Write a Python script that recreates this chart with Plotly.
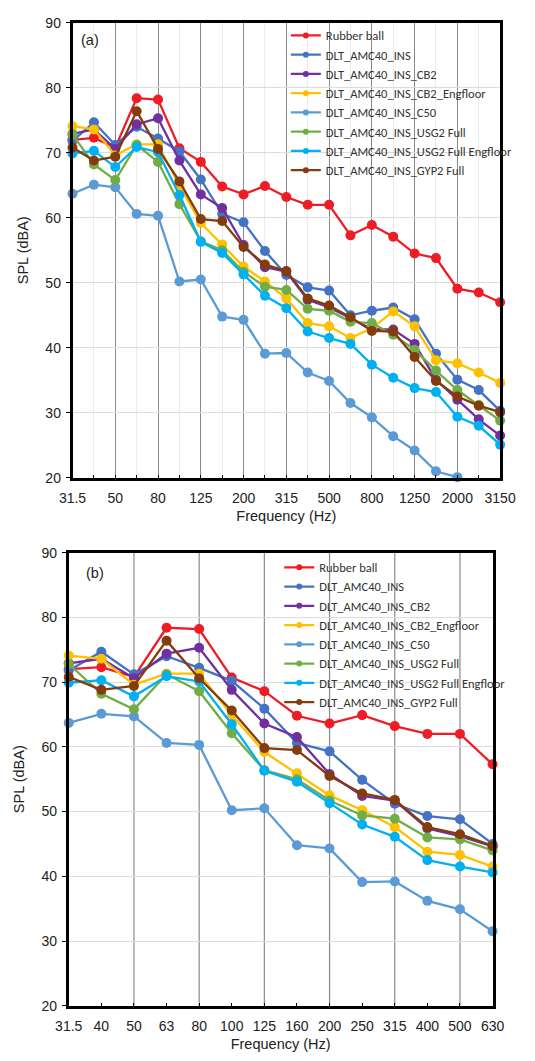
import plotly.graph_objects as go

# One-third octave band centre frequencies (Hz)
freqs = ["31.5", "40", "50", "63", "80", "100", "125", "160", "200", "250", "315",
         "400", "500", "630", "800", "1000", "1250", "1600", "2000", "2500", "3150"]

# Number of bands shown in the lower panel (31.5 - 630 Hz)
n_low = 14

# Sound pressure level per band (dBA)
rubber_ball = [72.0, 72.3, 70.8, 78.4, 78.2, 70.7, 68.6, 64.8, 63.6, 64.9, 63.2,
               62.0, 62.0, 57.3, 58.9, 57.1, 54.5, 53.8, 49.1, 48.5, 47.0]
ins = [71.8, 74.7, 71.2, 74.0, 72.2, 70.2, 65.9, 60.6, 59.3, 54.9, 51.2,
       49.3, 48.8, 45.0, 45.7, 46.2, 44.4, 39.1, 35.1, 33.5, 30.3]
ins_cb2 = [72.9, 73.6, 70.6, 74.4, 75.3, 68.8, 63.6, 61.5, 55.8, 52.4, 51.7,
           47.4, 46.2, 44.6, 42.9, 42.8, 40.6, 35.1, 32.0, 29.0, 26.5]
ins_cb2_eng = [74.1, 73.6, 69.6, 71.3, 71.3, 64.9, 59.2, 55.9, 52.5, 50.2, 47.6,
               43.8, 43.3, 41.5, 43.0, 45.6, 43.3, 38.1, 37.6, 36.2, 34.6]
ins_c50 = [63.7, 65.1, 64.7, 60.6, 60.3, 50.2, 50.5, 44.8, 44.3, 39.1, 39.2,
           36.2, 34.9, 31.5, 29.3, 26.4, 24.2, 21.0, 20.1, None, None]
ins_usg2 = [72.8, 68.2, 65.8, 71.2, 68.6, 62.1, 56.4, 55.0, 51.7, 49.4, 48.9,
            46.0, 45.7, 44.0, 43.8, 42.0, 39.7, 36.5, 33.5, 31.2, 28.8]
ins_usg2_eng = [69.9, 70.3, 67.8, 70.9, 70.1, 63.5, 56.3, 54.6, 51.3, 48.0, 46.1,
                42.5, 41.5, 40.6, 37.4, 35.4, 33.8, 33.2, 29.4, 28.0, 25.1]
ins_gyp2 = [70.8, 68.8, 69.4, 76.4, 70.6, 65.6, 59.8, 59.5, 55.5, 52.8, 51.8,
            47.6, 46.5, 44.7, 42.6, 42.5, 38.6, 34.9, 32.5, 31.1, 30.1]

series = [
    ("Rubber ball", rubber_ball, "#EE1C25"),
    ("DLT_AMC40_INS", ins, "#4472C4"),
    ("DLT_AMC40_INS_CB2", ins_cb2, "#7030A0"),
    ("DLT_AMC40_INS_CB2_Engfloor", ins_cb2_eng, "#FFC000"),
    ("DLT_AMC40_INS_C50", ins_c50, "#5B9BD5"),
    ("DLT_AMC40_INS_USG2 Full", ins_usg2, "#70AD47"),
    ("DLT_AMC40_INS_USG2 Full Engfloor", ins_usg2_eng, "#00B0F0"),
    ("DLT_AMC40_INS_GYP2 Full", ins_gyp2, "#843C0C"),
]

W, H = 535, 1061
x_all = list(range(len(freqs)))
x_low = x_all[:n_low]

fig = go.Figure()

panels = [("x", "y", "legend", x_all, None), ("x2", "y2", "legend2", x_low, n_low)]
for xa, ya, leg, xs, n in panels:
    for name, vals, color in series:
        fig.add_trace(go.Scatter(
            x=xs, y=vals[:n] if n else vals, name=name, mode="lines+markers",
            line=dict(color=color, width=2.3),
            marker=dict(color=color, size=10),
            cliponaxis=False, xaxis=xa, yaxis=ya, showlegend=False,
        ))
    # legend entries with the small markers of the legend key
    for name, vals, color in series:
        fig.add_trace(go.Scatter(
            x=[None], y=[None], name=name, mode="lines+markers",
            line=dict(color=color, width=2.3),
            marker=dict(color=color, size=6),
            xaxis=xa, yaxis=ya, legend=leg, showlegend=True,
        ))

tick_font = dict(family="Liberation Sans, Arial", size=14, color="#222")
title_font = dict(family="Liberation Sans, Arial", size=14.5, color="#222")
legend_font = dict(family="Carlito, Lato, sans-serif", size=12.5, color="#333")

def px_x(p):
    return p / W

def px_y(p):
    return 1 - p / H

y_common = dict(
    range=[20, 90], dtick=10, tick0=20,
    showgrid=True, gridcolor="#dcdcdc", gridwidth=1,
    showline=True, linecolor="black", linewidth=2.6, mirror=True,
    ticks="outside", ticklen=4, tickcolor="black", tickwidth=1,
    tickfont=tick_font, zeroline=False, ticklabelstandoff=2,
    title=dict(text="SPL (dBA)", font=title_font, standoff=14),
)

x_common = dict(
    ticks="inside", ticklen=3, tickcolor="black",
    showline=True, linecolor="black", linewidth=2.6, mirror=True,
    tickfont=tick_font, zeroline=False, ticklabelstandoff=6,
    title=dict(text="Frequency (Hz)", font=title_font, standoff=6),
)

fig.update_layout(
    width=W, height=H,
    margin=dict(l=0, r=0, t=0, b=0),
    paper_bgcolor="white", plot_bgcolor="white",
    xaxis=dict(
        domain=[px_x(62), px_x(515)], anchor="y",
        range=[0, len(freqs) - 1],
        tickmode="array", tickvals=x_all[::2], ticktext=freqs[::2],
        showgrid=True, gridcolor="#8a8a8a", gridwidth=1.2,
        minor=dict(dtick=1, tick0=0, showgrid=True, gridcolor="#ececec",
                   ticks="inside", ticklen=3, tickcolor="black"),
        **x_common,
    ),
    yaxis=dict(domain=[px_y(477), px_y(15)], anchor="x", **y_common),
    xaxis2=dict(
        domain=[px_x(58), px_x(507)], anchor="y2",
        range=[0, n_low - 1],
        tickmode="array", tickvals=x_low, ticktext=freqs[:n_low],
        showgrid=False,
        **x_common,
    ),
    yaxis2=dict(domain=[px_y(1013), px_y(553)], anchor="x2", **y_common),
    legend=dict(
        x=px_x(288), y=px_y(13), xanchor="left", yanchor="top",
        bgcolor="rgba(0,0,0,0)", font=legend_font, itemwidth=30,
        tracegroupgap=0,
    ),
    legend2=dict(
        x=px_x(281), y=px_y(553), xanchor="left", yanchor="top",
        bgcolor="rgba(0,0,0,0)", font=legend_font, itemwidth=30,
        tracegroupgap=0,
    ),
    showlegend=True,
)

# Dark vertical grid lines at every second band of the lower panel
for i in x_low[2:-1:2]:
    fig.add_shape(type="line", xref="x2", yref="y2 domain", x0=i, x1=i, y0=0, y1=1,
                  line=dict(color="#8a8a8a", width=1.2), layer="below")

# Panel labels
fig.add_annotation(text="(a)", xref="x domain", yref="y domain", x=0.015, y=0.962,
                   xanchor="left", yanchor="middle", showarrow=False,
                   font=dict(family="Liberation Sans, Arial", size=14.5, color="#222"))
fig.add_annotation(text="(b)", xref="x2 domain", yref="y2 domain", x=0.035, y=0.955,
                   xanchor="left", yanchor="middle", showarrow=False,
                   font=dict(family="Liberation Sans, Arial", size=14.5, color="#222"))

fig.write_html("out.html")
